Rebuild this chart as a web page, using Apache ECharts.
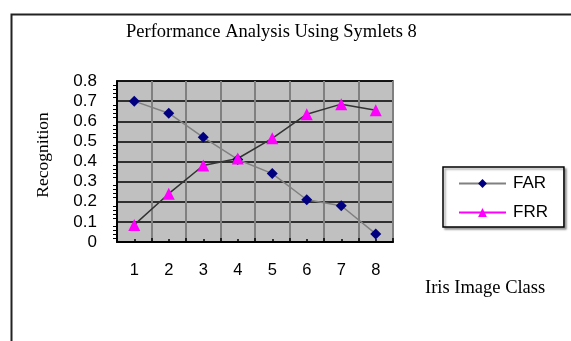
<!DOCTYPE html>
<html>
<head>
<meta charset="utf-8">
<script src="https://cdn.jsdelivr.net/npm/echarts@6/dist/echarts.min.js"></script>
<style>html,body{margin:0;padding:0;background:#fff;}#c{width:571px;height:341px;}</style>
</head>
<body>
<div id="c"></div>
<script>
const categories = ['1','2','3','4','5','6','7','8'];
const farValues = [0.70, 0.64, 0.52, 0.41, 0.34, 0.21, 0.18, 0.04];
const frrValues = [0.085, 0.24, 0.38, 0.415, 0.515, 0.635, 0.685, 0.655];
const yTicks = [0, 0.1, 0.2, 0.3, 0.4, 0.5, 0.6, 0.7, 0.8];

const chart = echarts.init(document.getElementById('c'), null, {renderer: 'canvas'});
chart.setOption({
  backgroundColor: '#fff',
  animation: false,
  title: {
    text: 'Performance Analysis Using Symlets 8',
    left: 121, top: 18,
    textStyle: {fontFamily: 'Liberation Serif', fontSize: 18.5, fontWeight: 'normal', color: '#000'}
  },
  graphic: [
    {type: 'rect', left: 9, top: 12, shape: {width: 620, height: 400}, style: {fill: 'none', stroke: '#222', lineWidth: 2}, z: -1},
    {type: 'text', left: 425, top: 279, style: {text: 'Iris Image Class', font: '18.5px "Liberation Serif"', fill: '#000'}},
    {type: 'text', x: 43, y: 155, rotation: Math.PI / 2, style: {text: 'Recognition', font: '17.5px "Liberation Serif"', fill: '#000', align: 'center', verticalAlign: 'middle'}}
  ],
  legend: {
    orient: 'vertical',
    left: 443, top: 167,
    padding: [8, 16, 6, 15],
    itemGap: 12,
    itemWidth: 47, itemHeight: 11,
    borderColor: '#000', borderWidth: 1.5,
    backgroundColor: '#fff',
    shadowColor: 'rgba(0,0,0,0.35)', shadowOffsetX: 2, shadowOffsetY: 2, shadowBlur: 2,
    textStyle: {fontFamily: 'Liberation Sans', fontSize: 17, color: '#000', padding: [0, 0, 0, 2]},
    data: [
      {name: 'FAR', lineStyle: {color: '#808080', width: 2}},
      {name: 'FRR', lineStyle: {color: '#ff00ff', width: 2}}
    ]
  },
  grid: {
    left: 117, right: 178, top: 81, bottom: 99,
    show: true, backgroundColor: '#c0c0c0', borderColor: '#222', borderWidth: 1.5
  },
  xAxis: [
    {
      type: 'category', data: categories, boundaryGap: true,
      axisLine: {show: true, lineStyle: {color: '#000', width: 2}},
      axisTick: {show: true, inside: true, length: 4, interval: 0, lineStyle: {color: '#000', width: 1.5}},
      axisLabel: {margin: 20, fontFamily: 'Liberation Sans', fontSize: 16.5, color: '#000', interval: 0},
      splitLine: {show: true, interval: 0, lineStyle: {color: '#808080', width: 2}}
    },
    {
      type: 'category', data: categories, boundaryGap: true, position: 'bottom', gridIndex: 0,
      axisLine: {show: false},
      axisTick: {show: true, inside: true, alignWithLabel: true, length: 3, interval: 0, lineStyle: {color: '#000', width: 1.5}},
      axisLabel: {show: false},
      splitLine: {show: false}
    }
  ],
  yAxis: {
    type: 'value', min: 0, max: 0.8, interval: 0.1,
    axisLine: {show: true, lineStyle: {color: '#000', width: 2}},
    axisTick: {show: false},
    minorTick: {show: true, splitNumber: 5, length: 4, lineStyle: {color: '#000', width: 1}},
    axisLabel: {margin: 20, fontFamily: 'Liberation Sans', fontSize: 17, color: '#000',
      formatter: function (v) { return yTicks.indexOf(Math.round(v * 10) / 10) >= 0 ? String(Math.round(v * 10) / 10) : ''; }},
    splitLine: {show: true, lineStyle: {color: '#000', width: 1.5}}
  },
  series: [
    {
      name: 'FAR', type: 'line', data: farValues,
      symbol: 'diamond', symbolSize: 11,
      itemStyle: {color: '#000080'},
      lineStyle: {color: '#808080', width: 1.5}
    },
    {
      name: 'FRR', type: 'line', data: frrValues,
      symbol: 'triangle', symbolSize: 12,
      itemStyle: {color: '#ff00ff'},
      lineStyle: {color: '#333', width: 1.5}
    }
  ]
});
</script>
</body>
</html>
